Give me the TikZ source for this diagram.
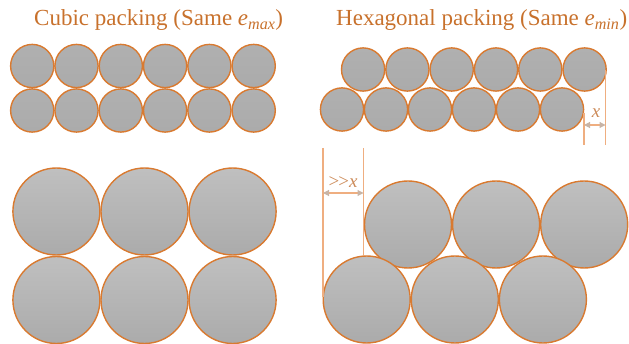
\documentclass[tikz,border=0pt]{standalone}
\usepackage{fontspec}
\setmainfont{Liberation Serif}
\usetikzlibrary{arrows.meta}
\definecolor{rim}{HTML}{D97A30}
\definecolor{titlec}{HTML}{C8712C}
\definecolor{dimline}{HTML}{EFAE80}
\definecolor{dimtip}{HTML}{C8B4A6}
\definecolor{dimtext}{HTML}{CC8A58}
\tikzset{
  smallball/.style={line width=1.4pt, draw=rim, top color=gray!62, bottom color=gray!66},
  bigball/.style={line width=1.4pt, draw=rim, top color=gray!50, bottom color=gray!66},
  title/.style={text=titlec, font=\fontsize{23}{26}\selectfont, inner sep=0pt},
  dimrule/.style={draw=dimline, line width=1.1pt},
  dimarrow/.style={draw=dimline, line width=1.1pt, {Triangle[length=6pt,width=6pt,color=dimtip]}-{Triangle[length=6pt,width=6pt,color=dimtip]}},
  dimlabel/.style={text=dimtext, font=\fontsize{19}{22}\selectfont\itshape, inner sep=0pt}
}
\begin{document}
\begin{tikzpicture}[x=1pt,y=-1pt]
\useasboundingbox (0,0) rectangle (629,344);

% titles
\node[title, anchor=base west] (cubictitle) at (34,26)
  {Cubic packing (Same \textit{e}\textsubscript{\textit{max}})};
\node[title, anchor=base west] (hextitle) at (336,26)
  {Hexagonal packing (Same \textit{e}\textsubscript{\textit{min}})};

% small cubic packing: two aligned rows
\foreach \i in {0,...,5}{
  \shadedraw[smallball] (32.2+44.3*\i,66) circle (21.6);
  \shadedraw[smallball] (32.2+44.3*\i,110.5) circle (21.6);
}

% small hexagonal packing: upper row shifted by one radius
\foreach \i in {0,...,5}{
  \shadedraw[smallball] (363.1+44.3*\i,69.5) circle (21.6);
  \shadedraw[smallball] (342+44*\i,109.5) circle (21.6);
}

% large cubic packing
\foreach \i in {0,1,2}{
  \shadedraw[bigball] (56.4+88.1*\i,211.5) circle (43.5);
  \shadedraw[bigball] (56.4+88.1*\i,300) circle (43.5);
}

% large hexagonal packing
\foreach \i in {0,1,2}{
  \shadedraw[bigball] (408+88.1*\i,224.5) circle (43.5);
  \shadedraw[bigball] (366.7+88.1*\i,299.5) circle (43.5);
}

% offset x between the small rows
\coordinate (xa) at (584,113);
\coordinate (xab) at (584,145);
\coordinate (xb) at (605.5,70);
\coordinate (xbb) at (605.5,145);
\draw[dimrule] (xa) -- (xab);
\draw[dimrule] (xb) -- (xbb);
\coordinate (xl) at (584,125);
\coordinate (xr) at (605.5,125);
\draw[dimarrow] (xl) -- (xr);
\node[dimlabel, anchor=base] (xlab) at (596,118) {x};

% offset >>x between the large rows
\coordinate (ya) at (323,148);
\coordinate (yab) at (323,297);
\coordinate (yb) at (363.5,148);
\coordinate (ybb) at (363.5,255);
\draw[dimrule] (ya) -- (yab);
\draw[dimrule] (yb) -- (ybb);
\coordinate (yl) at (323,193);
\coordinate (yr) at (363.5,193);
\draw[dimarrow] (yl) -- (yr);
\node[dimlabel, anchor=base] (ylab) at (343,188) {{\upshape>\kern-1pt>}x};
\end{tikzpicture}
\end{document}
